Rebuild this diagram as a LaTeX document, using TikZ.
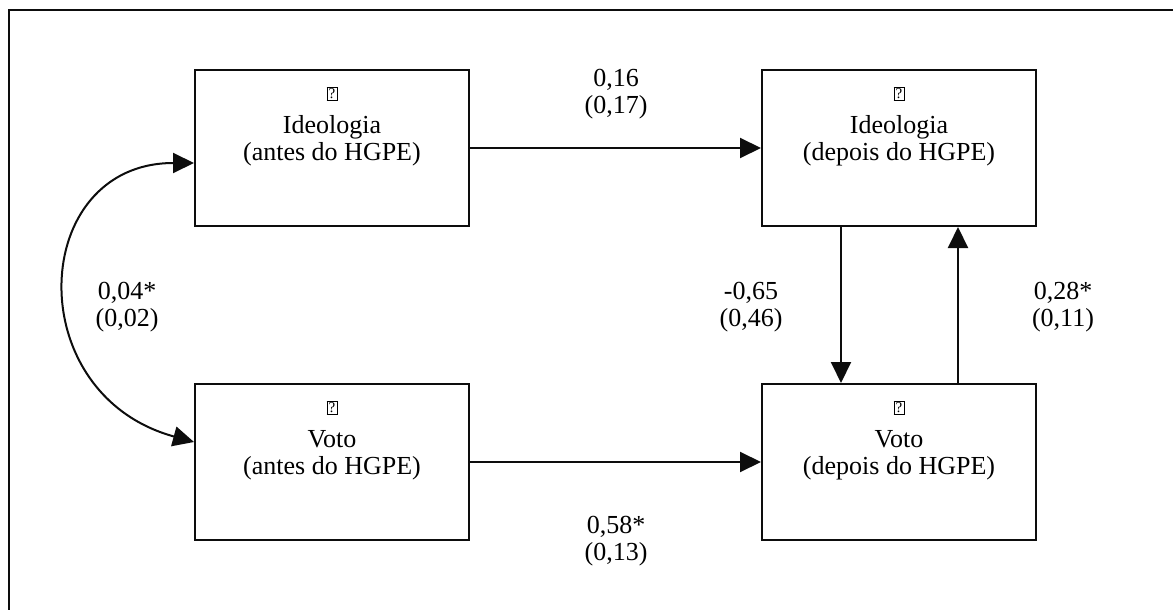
\documentclass[tikz,border=0pt]{standalone}
\usepackage{fontspec}
\setmainfont{Liberation Serif}
\usepackage{xcolor}
\usepackage{tikz}
\usetikzlibrary{positioning,arrows.meta,calc}
\definecolor{ink}{gray}{0.05}
\newcommand{\qmark}{{\setlength{\fboxsep}{0.6pt}\setlength{\fboxrule}{0.4pt}\fbox{\fontsize{7.5}{7.5}\selectfont ?}}}
\tikzset{
  box/.style={draw=ink, line width=1pt, minimum width=137pt, minimum height=78pt, inner sep=0pt},
  boxtext/.style={anchor=north, yshift=-8.75pt, align=center, inner sep=0pt,
                  font=\fontsize{13}{13.5}\selectfont},
  flow/.style={-{Triangle[length=10.5pt,width=10pt]}, draw=ink, line width=1pt},
  coef/.style={align=center, inner sep=0pt, font=\fontsize{13}{13.5}\selectfont},
  frame/.style={draw=ink, line width=0.8pt},
}

\begin{document}
\begin{tikzpicture}[x=0.5pt, y=-0.5pt]
        \useasboundingbox (0,0) rectangle (1173,610);
        \draw[frame] (9,610) -- (9,10) -- (1173,10);
        \node[box, label={[boxtext]north:{\qmark\\[4pt]Ideologia\\(antes do HGPE)}}] (ia) at (332,148) {};
        \node[box, label={[boxtext]north:{\qmark\\[4pt]Voto\\(antes do HGPE)}}] (va) at (332,462) {};
        \node[box, label={[boxtext]north:{\qmark\\[4pt]Ideologia\\(depois do HGPE)}}] (id) at (899,148) {};
        \node[box, label={[boxtext]north:{\qmark\\[4pt]Voto\\(depois do HGPE)}}] (vd) at (899,462) {};
        \draw[flow] (ia) -- (id);
        \draw[flow] (va) -- (vd);
        \draw[flow] ([xshift=-29pt]id.south) -- ([xshift=-29pt]vd.north);
        \draw[flow] ([xshift=29.5pt]vd.north) -- ([xshift=29.5pt]id.south);
        \draw[flow, {Triangle[length=10.5pt,width=10pt]}-{Triangle[length=10.5pt,width=10pt]}]
          ([yshift=-7.5pt]ia.west) .. controls +(-165,0) and +(-175,-48) .. ([yshift=10pt]va.west);
        \node[coef] (b1) at (616,94) {0,16\\(0,17)};
        \node[coef] (b2) at (616,541) {0,58*\\(0,13)};
        \node[coef] (b3) at (751,307) {-0,65\\(0,46)};
        \node[coef] (b4) at (1063,307) {0,28*\\(0,11)};
        \node[coef] (b5) at (127,307) {0,04*\\(0,02)};
      \end{tikzpicture}
\end{document}
